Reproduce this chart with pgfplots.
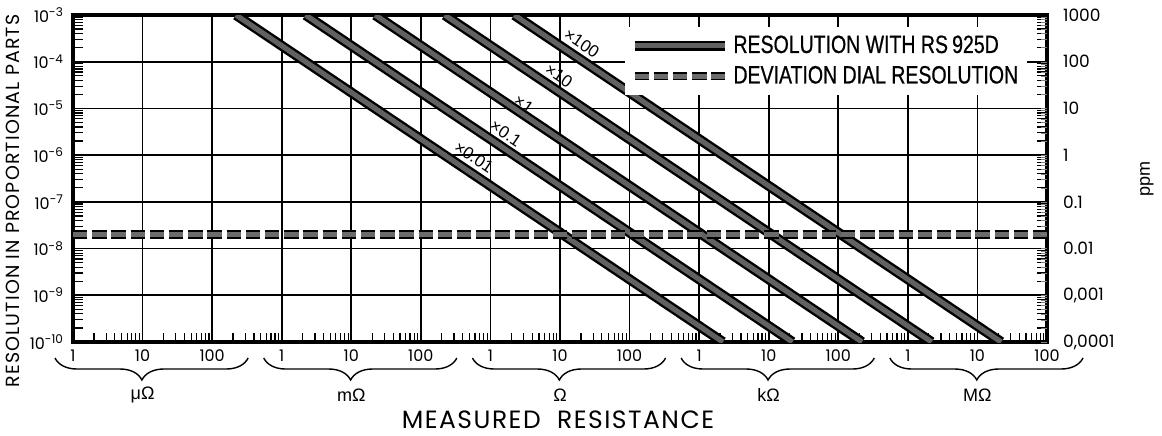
\documentclass[border=0pt]{standalone}
\usepackage{fontspec}
\setmainfont{Liberation Sans}
\newfontfamily\popp{Poppins}
\newfontfamily\poppls[LetterSpace=6]{Poppins}
\newfontfamily\cond[FakeStretch=0.78, FakeBold=0.6]{Liberation Sans}
\usepackage{pgfplots}
\pgfplotsset{compat=1.18}
\usetikzlibrary{decorations.pathreplacing}

% minor ticks at 2..9 of every decade
\xdef\minx{1e-6}
\foreach \e in {-6,...,7}{\foreach \m in {2,...,9}{\xdef\minx{\minx,\m e\e}}}
\xdef\miny{1e-10}
\foreach \e in {-10,...,-4}{\foreach \m in {2,...,9}{\xdef\miny{\miny,\m e\e}}}
\edef\temp{\noexpand\pgfplotsset{minorticks/.style={minor xtick={\minx}, minor ytick={\miny}}}}
\temp

\pgfplotsset{
  band/.style={line width=1.2pt, black, double=black!62, double distance=2.6pt, line cap=butt},
  dial/.style={line width=0.9pt, black, double=black!58, double distance=2.3pt,
               dash pattern=on 7.2pt off 2.4pt, line cap=butt},
}

% brace under one unit group: first decade, last decade, middle decade, unit
\newcommand\unitbrace[4]{%
  \draw[decorate, decoration={brace, mirror, amplitude=11pt, aspect=0.45}, line width=0.7pt]
    ([xshift=-9pt,yshift=-8pt]axis cs:#1,1e-10) -- ([xshift=18pt,yshift=-8pt]axis cs:#2,1e-10);
  \node[font=\fontsize{9}{10}\selectfont] at ([yshift=-26.5pt]axis cs:#3,1e-10) {#4};
}

\begin{document}
\begin{tikzpicture}
\useasboundingbox (-36.5pt,-46.5pt) rectangle (544.5pt,171pt);

\begin{axis}[
  at={(0,0)}, anchor=south west,
  scale only axis, width=487pt, height=163.5pt,
  xmode=log, ymode=log,
  xmin=1e-6, xmax=1e8, ymin=1e-10, ymax=1e-3,
  xtick={1e-6,1e-5,1e-4,1e-3,1e-2,1e-1,1,1e1,1e2,1e3,1e4,1e5,1e6,1e7,1e8},
  xticklabels={1,10,100,1,10,100,1,10,100,1,10,100,1,10,100},
  ytick={1e-10,1e-9,1e-8,1e-7,1e-6,1e-5,1e-4,1e-3},
  yticklabels={10\textsuperscript{-10},10\textsuperscript{-9},10\textsuperscript{-8},
    10\textsuperscript{-7},10\textsuperscript{-6},10\textsuperscript{-5},
    10\textsuperscript{-4},10\textsuperscript{-3}},
  minorticks,
  xtick pos=lower, ytick pos=both,
  tick align=inside,
  major tick length=0pt,
  minor tick style={black, line width=0.6pt},
  minor x tick style={/pgfplots/minor tick length=4.5pt},
  minor y tick style={/pgfplots/minor tick length=5pt},
  xmajorgrids, ymajorgrids,
  major grid style={black, line width=0.9pt},
  axis line style={black, line width=2pt},
  ticklabel style={font=\popp\fontsize{8}{9}\selectfont},
  xticklabel style={yshift=-0.5pt},
  yticklabel style={xshift=-1pt},
  clip mode=individual,
  legend style={at={(rel axis cs:0.980,0.966)}, anchor=north east,
    draw=none, fill=white, font=\cond\fontsize{12.5}{14}\selectfont,
    inner xsep=2.5pt, inner ysep=2.5pt, row sep=1pt},
  legend cell align=left,
  legend image code/.code={\draw[#1] (0pt,0pt) -- (45pt,0pt);},
]

% resolution with RS 925D, one band per range
\addplot[band] coordinates {(2.2e-4,1e-3) (2.2e3,1e-10)};
\addlegendentry{RESOLUTION WITH RS\,925D}
\addplot[band, forget plot] coordinates {(2.2e-3,1e-3) (2.2e4,1e-10)};
\addplot[band, forget plot] coordinates {(2.2e-2,1e-3) (2.2e5,1e-10)};
\addplot[band, forget plot] coordinates {(2.2e-1,1e-3) (2.2e6,1e-10)};
\addplot[band, forget plot] coordinates {(2.2,1e-3) (2.2e7,1e-10)};

% deviation dial resolution
\addplot[dial] coordinates {(1e-6,2e-8) (1e8,2e-8)};
\addlegendentry{DEVIATION DIAL RESOLUTION}

% range labels on the bands
\node[rotate=-34, inner sep=0pt, font=\fontsize{8.5}{10}\selectfont] at (axis cs:20.5,2.5e-4) {×100};
\node[rotate=-34, inner sep=0pt, font=\fontsize{8.5}{10}\selectfont] at (axis cs:9.6,5.1e-5) {×10};
\node[rotate=-34, inner sep=0pt, font=\fontsize{8.5}{10}\selectfont] at (axis cs:3.0,1.22e-5) {×1};
\node[rotate=-34, inner sep=0pt, font=\fontsize{8.5}{10}\selectfont] at (axis cs:1.67,2.95e-6) {×0.1};
\node[rotate=-34, inner sep=0pt, font=\fontsize{8.5}{10}\selectfont] at (axis cs:0.58,0.9e-6) {×0.01};

% unit braces under the x axis
\unitbrace{1e-6}{1e-4}{1e-5}{μΩ}
\unitbrace{1e-3}{1e-1}{1e-2}{mΩ}
\unitbrace{1}{1e2}{1e1}{Ω}
\unitbrace{1e3}{1e5}{1e4}{kΩ}
\unitbrace{1e6}{1e8}{1e7}{MΩ}

\node[font=\poppls\fontsize{12.5}{14}\selectfont, inner sep=0pt] at ([xshift=242.5pt,yshift=-38.8pt]rel axis cs:0,0)
  {MEASURED\ \ RESISTANCE};
\node[font=\poppls\fontsize{9.5}{11}\selectfont, rotate=90, inner sep=0pt] at ([xshift=-30pt,yshift=70.5pt]rel axis cs:0,0)
  {RESOLUTION IN PROPORTIONAL PARTS};
\node[font=\fontsize{9}{10}\selectfont, rotate=90] at ([xshift=50pt]rel axis cs:1,0.5) {ppm};
\end{axis}

% right-hand ppm scale
\begin{axis}[
  at={(0,0)}, anchor=south west,
  scale only axis, width=487pt, height=163.5pt,
  xmode=log, ymode=log,
  xmin=1e-6, xmax=1e8, ymin=1e-4, ymax=1e3,
  axis x line=none, axis y line*=right,
  y axis line style={draw=none},
  ytick={1e-4,1e-3,1e-2,1e-1,1,1e1,1e2,1e3},
  yticklabels={{0,0001},{0,001},0.01,0.1,1,10,100,1000},
  minor ytick={}, major tick length=0pt,
  yticklabel style={font=\popp\fontsize{8.5}{9}\selectfont, anchor=west, xshift=4.5pt},
]
\end{axis}
\end{tikzpicture}
\end{document}
